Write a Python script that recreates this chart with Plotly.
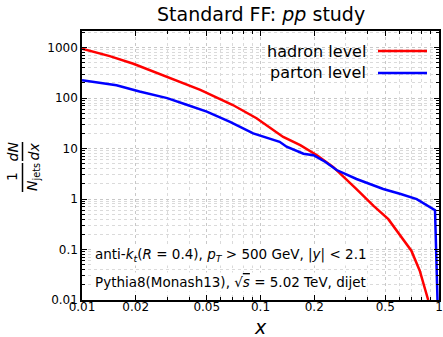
import plotly.graph_objects as go

# ---- data ----
hadron_x = [0.01, 0.0143, 0.0194, 0.03, 0.046, 0.07, 0.095, 0.134, 0.167, 0.207,
            0.256, 0.345, 0.43, 0.52, 0.58, 0.64, 0.70, 0.78, 0.87]
hadron_y = [950, 680, 480, 260, 146, 73, 40, 17, 11.7, 7.4,
            4.3, 1.58, 0.73, 0.40, 0.24, 0.15, 0.095, 0.038, 0.01]

parton_x = [0.01, 0.0156, 0.021, 0.03, 0.0386, 0.05, 0.0675, 0.091, 0.128, 0.14,
            0.174, 0.198, 0.23, 0.267, 0.345, 0.487, 0.61, 0.75, 0.95, 0.99]
parton_y = [225, 180, 135, 100, 74, 54, 34, 20, 13.6, 10.9,
            7.9, 7.4, 5.5, 3.76, 2.5, 1.58, 1.26, 1.0, 0.6, 0.003]

x_ticks = [0.01, 0.02, 0.05, 0.1, 0.2, 0.5, 1]
x_ticklabels = ["0.01", "0.02", "0.05", "0.1", "0.2", "0.5", "1"]
y_ticks = [0.01, 0.1, 1, 10, 100, 1000]
y_ticklabels = ["0.01", "0.1", "1", "10", "100", "1000"]

series_names = ["hadron level", "parton level"]
series_colors = ["#ff0000", "#0000ff"]

# minor ticks (log decades)
x_minor = [m * d for d in (0.01, 0.1) for m in (3, 4, 6, 7, 8, 9)]
y_minor = [m * 10.0 ** e for e in range(-2, 4) for m in range(2, 10)]

W, H = 443, 337
L, R, T, B = 82, 4, 31, 37
pw, ph = W - L - R, H - T - B


def px(xp):
    return (xp - L) / pw


def py(yp):
    return (H - B - yp) / ph


FONT = "DejaVu Sans"

fig = go.Figure()
for xs, ys, name, col in [(hadron_x, hadron_y, series_names[0], series_colors[0]),
                          (parton_x, parton_y, series_names[1], series_colors[1])]:
    fig.add_trace(go.Scatter(x=xs, y=ys, mode="lines", name=name,
                             line=dict(color=col, width=2.5), showlegend=False))

axis_common = dict(
    type="log", showline=True, linecolor="black", linewidth=1.5, mirror="allticks",
    ticks="inside", ticklen=5, tickwidth=1, tickcolor="black",
    showgrid=True, gridcolor="#c8c8c8", griddash="dot", gridwidth=1,
    zeroline=False, automargin=False,
    tickfont=dict(family=FONT, size=12, color="black"),
)

fig.update_xaxes(**axis_common, range=[-2, 0], tickvals=x_ticks, ticktext=x_ticklabels,
                 ticklabelstandoff=-5,
                 minor=dict(tickmode="array", tickvals=x_minor, ticks="inside", ticklen=3,
                            tickcolor="black", showgrid=True, gridcolor="#dadada",
                            griddash="dot", gridwidth=1))
fig.update_yaxes(**axis_common, range=[-2, 3.33], tickvals=y_ticks, ticktext=y_ticklabels,
                 minor=dict(tickmode="array", tickvals=y_minor, ticks="inside", ticklen=3,
                            tickcolor="black", showgrid=True, gridcolor="#dadada",
                            griddash="dot", gridwidth=1))

annotations = []
# title
annotations.append(dict(text="Standard FF: <i>pp</i> study", x=0.5, y=py(14), xref="paper",
                        yref="paper", showarrow=False, xanchor="center", yanchor="middle",
                        font=dict(family=FONT, size=19, color="black")))
# x-axis title
annotations.append(dict(text="<i>x</i>", x=0.5, y=py(327), xref="paper", yref="paper",
                        showarrow=False, xanchor="center", yanchor="middle",
                        font=dict(family=FONT, size=19, color="black")))
# custom legend (text left of line sample)
legend_y = [51, 73]
shapes = []
for name, col, ly in zip(series_names, series_colors, legend_y):
    annotations.append(dict(text=name, x=px(368), y=py(ly), xref="paper", yref="paper",
                            showarrow=False, xanchor="right", yanchor="middle",
                            font=dict(family=FONT, size=16, color="black")))
    shapes.append(dict(type="line", xref="paper", yref="paper", x0=px(378), x1=px(427),
                       y0=py(ly), y1=py(ly), line=dict(color=col, width=2.5)))

# text boxes
annotations.append(dict(
    text="anti-<i>k</i><sub><i>t</i></sub>(<i>R</i> = 0.4), <i>p</i><sub><i>T</i></sub> > 500 GeV, |<i>y</i>| < 2.1",
    x=px(93), y=py(255), xref="paper", yref="paper", showarrow=False, xanchor="left",
    yanchor="middle", bgcolor="white", borderpad=1,
    font=dict(family=FONT, size=13.5, color="black")))
annotations.append(dict(
    text="Pythia8(Monash13), √<span style='text-decoration:overline'><i>s</i></span> = 5.02 TeV, dijet",
    x=px(93), y=py(282), xref="paper", yref="paper", showarrow=False, xanchor="left",
    yanchor="middle", bgcolor="white", borderpad=1,
    font=dict(family=FONT, size=13.5, color="black")))

# y-axis label as two rotated fractions
ylab_font = dict(family=FONT, size=14, color="black")
for txt, xp_, yp_ in [("<i>dN</i>", 12, 151.5), ("<i>dx</i>", 33, 151.5),
                      ("1", 12, 177), ("<i>N</i><sub>jets</sub>", 33, 177)]:
    annotations.append(dict(text=txt, x=px(xp_), y=py(yp_), xref="paper", yref="paper",
                            showarrow=False, textangle=-90, xanchor="center",
                            yanchor="middle", font=ylab_font))
for y0, y1 in [(142, 161), (163, 192)]:
    shapes.append(dict(type="line", xref="paper", yref="paper", x0=px(22.5), x1=px(22.5),
                       y0=py(y0), y1=py(y1), line=dict(color="black", width=1.5)))

fig.update_layout(width=W, height=H, margin=dict(l=L, r=R, t=T, b=B, autoexpand=False),
                  paper_bgcolor="white", plot_bgcolor="white",
                  annotations=annotations, shapes=shapes, showlegend=False)

fig.write_html("out.html", config={"displayModeBar": False},
               post_script="document.body.style.margin='0';document.body.style.overflow='hidden';")
